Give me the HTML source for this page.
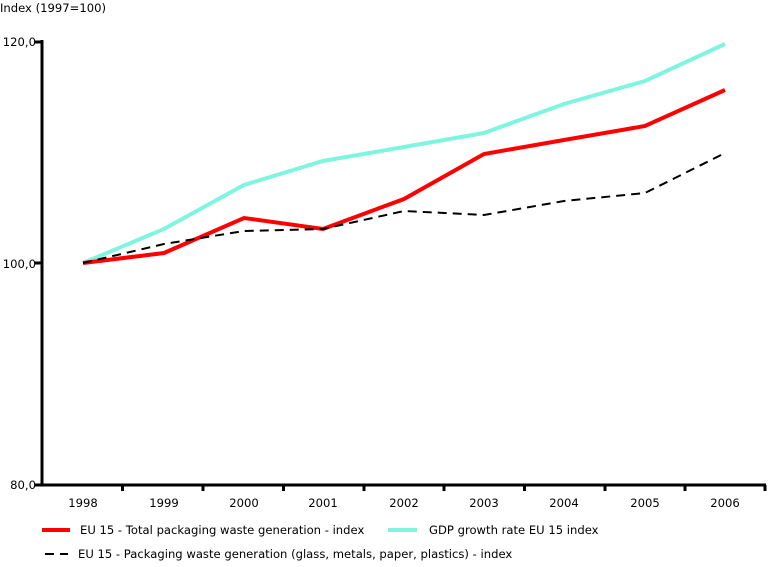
<!DOCTYPE html>
<html><head><meta charset="utf-8"><style>
html,body{margin:0;padding:0;background:#fff;}
svg text{font-family:"DejaVu Sans","Liberation Sans",sans-serif;font-size:11.6px;fill:#000;}
</style></head><body>
<svg width="768" height="562" viewBox="0 0 768 562">
<text x="0" y="12">Index (1997=100)</text>
<text x="36" y="46" text-anchor="end">120,0</text>
<text x="36" y="268" text-anchor="end">100,0</text>
<text x="36" y="489" text-anchor="end">80,0</text>
<line x1="35" y1="42" x2="42" y2="42" stroke="#000" stroke-width="3"/>
<line x1="35" y1="263" x2="42" y2="263" stroke="#000" stroke-width="3"/>
<line x1="35" y1="485" x2="42" y2="485" stroke="#000" stroke-width="3"/>
<line x1="42" y1="40" x2="42" y2="486" stroke="#000" stroke-width="3"/>
<line x1="41" y1="485" x2="766" y2="485" stroke="#000" stroke-width="3"/>
<g stroke="#000" stroke-width="3">
<line x1="122.5" y1="485" x2="122.5" y2="491"/><line x1="203" y1="485" x2="203" y2="491"/>
<line x1="283.5" y1="485" x2="283.5" y2="491"/><line x1="364" y1="485" x2="364" y2="491"/>
<line x1="444" y1="485" x2="444" y2="491"/><line x1="524.5" y1="485" x2="524.5" y2="491"/>
<line x1="605" y1="485" x2="605" y2="491"/><line x1="685" y1="485" x2="685" y2="491"/>
<line x1="765" y1="485" x2="765" y2="491"/>
</g>
<g text-anchor="middle">
<text x="83" y="507">1998</text><text x="164" y="507">1999</text><text x="244" y="507">2000</text>
<text x="323" y="507">2001</text><text x="404" y="507">2002</text><text x="484" y="507">2003</text>
<text x="564" y="507">2004</text><text x="645" y="507">2005</text><text x="725" y="507">2006</text>
</g>
<polyline fill="none" stroke="#7ff5e0" stroke-width="4" points="83,263 164,229 244,185 323,161 404,147 484,133 564,104 645,81 725,44"/>
<polyline fill="none" stroke="#ff0000" stroke-width="4" points="83,263 164,253 244,218 323,229 404,199 484,154 564,140 645,126 725,90"/>
<polyline fill="none" stroke="#000" stroke-width="2" stroke-dasharray="9,6" points="83,263 164,244 244,231 323,229 404,211 484,215 564,201 645,193 725,153"/>
<line x1="42" y1="530" x2="70" y2="530" stroke="#ff0000" stroke-width="4"/>
<text x="80" y="534">EU 15 - Total packaging waste generation - index</text>
<line x1="388" y1="530" x2="417" y2="530" stroke="#7ff5e0" stroke-width="4"/>
<text x="429" y="534">GDP growth rate EU 15 index</text>
<line x1="45" y1="554" x2="68" y2="554" stroke="#000" stroke-width="2" stroke-dasharray="9,6"/>
<text x="78" y="558">EU 15 - Packaging waste generation (glass, metals, paper, plastics) - index</text>
</svg>
</body></html>
